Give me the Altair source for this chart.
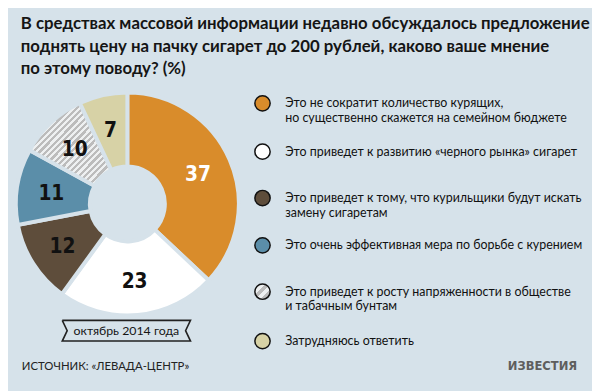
import altair as alt
import pandas as pd

# ---------------- data ----------------
categories = [
    "Это не сократит количество курящих,\nно существенно скажется на семейном бюджете",
    "Это приведет к развитию «черного рынка» сигарет",
    "Это приведет к тому, что курильщики будут искать\nзамену сигаретам",
    "Это очень эффективная мера по борьбе с курением",
    "Это приведет к росту напряженности в обществе\nи табачным бунтам",
    "Затрудняюсь ответить",
]
values = [37, 23, 12, 11, 10, 7]
colors = ["#d98c2b", "#ffffff", "#5e4d3b", "#5b8ea9", "#d0d0d0", "#d7d2a6"]
title_lines = [
    "В средствах массовой информации недавно обсуждалось предложение",
    "поднять цену на пачку сигарет до 200 рублей, каково ваше мнение",
    "по этому поводу? (%)",
]
period_label = "октябрь 2014 года"
source_label = "ИСТОЧНИК: «ЛЕВАДА-ЦЕНТР»"
brand_label = "ИЗВЕСТИЯ"

BG = "#d6e2ea"
FONT = "Lato, DejaVu Sans Condensed, sans-serif"
NUMFONT = "DejaVu Sans Condensed, Lato, sans-serif"
HATCH = categories[4]
OFF = 8  # page margin


def stripes(n, c1="#bcbcbc", c2="#eef0f1"):
    stops = []
    for i in range(n):
        a, m, b = i / n, (i + 0.5) / n, (i + 1) / n
        stops += [{"offset": a, "color": c1}, {"offset": m, "color": c1},
                  {"offset": m, "color": c2}, {"offset": b, "color": c2}]
    return {"gradient": "linear", "x1": 0, "y1": 0, "x2": 1, "y2": 1, "stops": stops}


df = pd.DataFrame({"cat": categories, "value": values, "order": list(range(len(values)))})

cx, cy = 129 - OFF, 204 - OFF

fill_enc = alt.condition(
    alt.datum.cat == HATCH,
    alt.value(stripes(26)),
    alt.Fill("cat:N", scale=alt.Scale(domain=categories, range=colors), legend=None),
)

base = alt.Chart(df)

arcs = base.mark_arc(innerRadius=38, outerRadius=113, stroke=BG, strokeWidth=4).encode(
    theta=alt.Theta("value:Q", stack=True),
    order=alt.Order("order:Q"),
    fill=fill_enc,
    x=alt.value(cx), y=alt.value(cy),
)

nums = base.mark_text(radius=78, font=NUMFONT, fontSize=21, fontWeight="bold",
                      align="center", baseline="middle").encode(
    theta=alt.Theta("value:Q", stack=True),
    order=alt.Order("order:Q"),
    text=alt.Text("value:Q"),
    color=alt.condition(alt.datum.order == 0, alt.value("#ffffff"), alt.value("#111111")),
    x=alt.value(cx), y=alt.value(cy + 2),
)

# legend
leg_y = [102, 151, 198, 246, 293, 343]
leg = df.copy()
leg["ly"] = [v - OFF for v in leg_y]
leg["lx"] = 266 - OFF
leg["tx"] = 289 - OFF

leg_sym = alt.Chart(leg).mark_point(shape="circle", filled=True, size=240, stroke="#111111",
                                    strokeWidth=1.5, opacity=1).encode(
    x=alt.X("lx:Q", scale=None), y=alt.Y("ly:Q", scale=None),
    fill=alt.condition(alt.datum.cat == HATCH, alt.value(stripes(3)),
                       alt.Fill("cat:N", scale=alt.Scale(domain=categories, range=colors), legend=None)),
)

leg_txt = alt.Chart(leg).mark_text(align="left", baseline="middle", font=FONT, fontSize=12.6,
                                   lineBreak="\n", lineHeight=15, color="#111111").encode(
    x=alt.X("tx:Q", scale=None), y=alt.Y("ly:Q", scale=None), text="cat:N",
)

# title
tdf = pd.DataFrame({"t": title_lines, "y": [27 - OFF + i * 22.5 for i in range(3)]})
title = alt.Chart(tdf).mark_text(align="left", baseline="alphabetic", font=FONT, fontSize=17,
                                 fontWeight="bold", color="#151515").encode(
    x=alt.value(21 - OFF), y=alt.Y("y:Q", scale=None), text="t:N",
)

# banner outline
bx = [63, 68, 63, 193, 188, 193, 63]
by = [322, 332.5, 343, 343, 332.5, 322, 322]
bdf = pd.DataFrame({"x": [v - OFF for v in bx], "y": [v - OFF for v in by], "o": range(len(bx))})
banner = alt.Chart(bdf).mark_line(color="#222222", strokeWidth=1.6).encode(
    x=alt.X("x:Q", scale=None), y=alt.Y("y:Q", scale=None), order="o:Q",
)
banner_txt = alt.Chart(pd.DataFrame({"t": [period_label]})).mark_text(
    font=FONT, fontSize=12.5, align="center", baseline="alphabetic", color="#151515").encode(
    x=alt.value(128 - OFF), y=alt.value(337 - OFF), text="t:N")

source = alt.Chart(pd.DataFrame({"t": [source_label]})).mark_text(
    font=FONT, fontSize=11.5, align="left", baseline="alphabetic", color="#222222").encode(
    x=alt.value(22 - OFF), y=alt.value(372 - OFF), text="t:N")

brand = alt.Chart(pd.DataFrame({"t": [brand_label]})).mark_text(
    font=NUMFONT, fontSize=13, fontWeight="bold", align="right", baseline="alphabetic",
    color="#5e5e5e").encode(
    x=alt.value(585 - OFF), y=alt.value(372 - OFF), text="t:N")

chart = alt.layer(arcs, nums, leg_sym, leg_txt, title, banner, banner_txt, source, brand).properties(
    width=600 - OFF, height=391 - OFF, background=BG, padding=0,
    autosize=alt.AutoSizeParams(type="none"),
).configure_view(stroke=None)

chart.save("out.html", embed_options={"renderer": "svg", "actions": False})
